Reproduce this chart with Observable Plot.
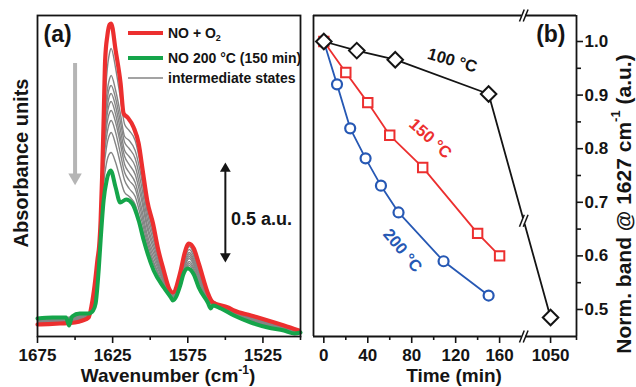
<!DOCTYPE html>
<html><head><meta charset="utf-8">
<script src="https://cdn.jsdelivr.net/npm/d3@7"></script>
<script src="https://cdn.jsdelivr.net/npm/@observablehq/plot@0.6"></script>
<style>
body{margin:0;background:#fff;}
#wrap{position:relative;width:636px;height:387px;overflow:hidden;background:#fff;}
#wrap svg{position:absolute;top:0;}
</style></head><body><div id="wrap"></div>
<script>
// ---------- Panel (a): spectra ----------
const redWn  = [1675,1668,1660,1650,1645,1641,1639,1637,1635,1634,1633,1632,1631,1630,1628.5,1627,1626,1623,1619.7,1617.7,1615,1611,1607.7,1605,1602,1598,1595,1591,1587.7,1585,1579.7,1577,1574.3,1571,1567.7,1561,1558.3,1548.3,1544.3,1533,1521.7,1511,1501];
const redAbs = [0.060,0.062,0.065,0.070,0.080,0.095,0.155,0.255,0.39,0.45,0.58,0.80,1.08,1.38,1.505,1.56,1.565,1.43,1.265,1.115,1.095,1.045,0.965,0.83,0.68,0.56,0.445,0.33,0.245,0.22,0.33,0.42,0.465,0.44,0.365,0.205,0.17,0.145,0.13,0.105,0.08,0.055,0.03];

const greenWn  = [1675,1665,1656,1654,1652,1647,1641,1638,1636.3,1634.3,1633,1631,1629,1626.3,1623,1620,1616,1612,1607.7,1604.3,1597.7,1591,1586.3,1585,1580,1578,1575,1571,1567.7,1561.7,1559.7,1558.3,1553,1544.3,1533,1521.7,1511,1504,1500];
const greenAbs = [0.09,0.095,0.095,0.055,0.10,0.115,0.115,0.13,0.165,0.33,0.48,0.68,0.78,0.83,0.745,0.67,0.685,0.665,0.58,0.48,0.33,0.245,0.195,0.18,0.255,0.31,0.34,0.31,0.245,0.17,0.14,0.155,0.14,0.105,0.07,0.045,0.03,0.015,0.02];

const grayWn = [1675,1660,1645,1640,1637,1635,1633,1631,1629,1627,1626,1623,1620,1617,1614,1610,1606,1602,1597,1591,1585,1580,1574,1568,1561,1550,1535,1520,1500];
const grayAbs = [
  [0.065,0.068,0.085,0.12,0.24,0.38,0.60,1.00,1.30,1.42,1.44,1.34,1.20,1.06,1.03,0.98,0.84,0.65,0.50,0.32,0.215,0.32,0.45,0.35,0.20,0.145,0.10,0.07,0.028],
  [0.068,0.07,0.09,0.12,0.23,0.37,0.59,0.97,1.20,1.29,1.305,1.23,1.12,1.00,0.98,0.93,0.80,0.62,0.48,0.31,0.21,0.31,0.435,0.34,0.195,0.14,0.10,0.068,0.027],
  [0.07,0.072,0.095,0.12,0.22,0.36,0.58,0.95,1.16,1.245,1.255,1.19,1.08,0.97,0.94,0.89,0.76,0.59,0.46,0.30,0.205,0.305,0.42,0.33,0.19,0.14,0.095,0.065,0.026],
  [0.072,0.075,0.10,0.12,0.21,0.35,0.57,0.93,1.12,1.205,1.215,1.15,1.04,0.93,0.90,0.85,0.72,0.56,0.44,0.29,0.20,0.30,0.41,0.32,0.19,0.14,0.095,0.062,0.025],
  [0.075,0.078,0.10,0.12,0.20,0.34,0.56,0.91,1.09,1.165,1.175,1.11,1.00,0.90,0.86,0.81,0.69,0.54,0.42,0.28,0.20,0.29,0.40,0.31,0.185,0.135,0.09,0.06,0.024],
  [0.078,0.08,0.105,0.12,0.19,0.32,0.54,0.89,1.05,1.12,1.13,1.07,0.97,0.86,0.82,0.77,0.65,0.51,0.40,0.275,0.195,0.285,0.39,0.30,0.18,0.135,0.09,0.058,0.023],
  [0.08,0.083,0.108,0.12,0.18,0.31,0.53,0.86,1.00,1.07,1.08,1.02,0.92,0.82,0.78,0.74,0.62,0.49,0.38,0.27,0.19,0.28,0.375,0.29,0.18,0.135,0.085,0.055,0.022],
  [0.083,0.086,0.11,0.12,0.17,0.30,0.51,0.82,0.95,1.01,1.02,0.96,0.87,0.78,0.74,0.70,0.59,0.47,0.36,0.26,0.19,0.27,0.365,0.28,0.175,0.13,0.085,0.052,0.021],
  [0.086,0.09,0.112,0.12,0.16,0.29,0.50,0.76,0.87,0.915,0.92,0.87,0.79,0.72,0.70,0.66,0.56,0.45,0.35,0.255,0.185,0.265,0.355,0.265,0.175,0.13,0.08,0.05,0.02]
];
const ticksA = [1675,1625,1575,1525];
const minorA = [1650,1600,1550,1500];

// ---------- Panel (b): normalized band vs time ----------
const t100 = [0,30,65,150,1050];
const v100 = [1.0,0.983,0.966,0.902,0.485];
const t150 = [0,20,40,60,90,140,160];
const v150 = [1.0,0.942,0.886,0.825,0.765,0.642,0.60];
const t200 = [0,12,24,38,52,68,109,150];
const v200 = [1.0,0.92,0.838,0.782,0.731,0.681,0.59,0.526];
const ticksB = [0,40,80,120,160,1050];
const minorB = [20,60,100,140];
const ticksBy = [0.5,0.6,0.7,0.8,0.9,1.0];
const minorBy = [0.55,0.65,0.75,0.85,0.95];

const FONT = "'Liberation Sans', Arial, Helvetica, sans-serif";
const RED = "#ec2f2f", GREEN = "#15a54a", BLUE = "#2658b4", INK = "#141414";

// broken time axis: times up to 180 min are linear, the 1050 min point sits after the break
const BREAK = 182;
const axisPos = t => t <= 180 ? t : 206.4 + (t - 1050) * 0.5;

const wrap = document.getElementById("wrap");
const baseStyle = `font-family:${FONT};font-size:17px;font-weight:bold;background:transparent;overflow:visible;color:${INK};`;

// ---- Plot A
const redRows = redWn.map((w,i)=>({wn:w,a:redAbs[i]}));
const greenRows = greenWn.map((w,i)=>({wn:w,a:greenAbs[i]}));
const grayRows = grayAbs.flatMap((arr,k)=>arr.map((a,i)=>({wn:grayWn[i],a,k})));

const plotA = Plot.plot({
  width: 305, height: 387,
  marginLeft: 37, marginRight: 5, marginTop: 15, marginBottom: 51,
  style: baseStyle,
  x: {domain: [1675, 1500]},
  y: {domain: [0, 1.605], axis: null},
  marks: [
    Plot.line(grayRows, {x:"wn", y:"a", z:"k", stroke:"#858585", strokeWidth:1.4, curve:"monotone-x"}),
    Plot.line(redRows, {x:"wn", y:"a", stroke:RED, strokeWidth:4.2, curve:"monotone-x"}),
    Plot.line(greenRows, {x:"wn", y:"a", stroke:GREEN, strokeWidth:4, curve:"monotone-x"}),
    Plot.frame({stroke:INK, strokeWidth:1.8}),
    Plot.axisX({ticks: ticksA, tickSize:7, tickPadding:5, tickFormat: d=>String(d), label:null, fontSize:17, fontWeight:"bold", strokeWidth:1.6}),
    Plot.axisX({ticks: minorA, tickSize:4, tickFormat: ()=>"", label:null, strokeWidth:1.6}),
    // grey "decrease" arrow
    Plot.ruleX([{x:1650, y1:1.365, y2:0.80}], {x:"x", y1:"y1", y2:"y2", stroke:"#b5b5b5", strokeWidth:4}),
    Plot.dot([{x:1650, y:0.795}], {x:"x", y:"y", symbol:"triangle", r:5, fill:"#b5b5b5", stroke:"none", rotate:180}),
    // 0.5 a.u. scale bar
    Plot.ruleX([{x:1550, y1:0.40, y2:0.84}], {x:"x", y1:"y1", y2:"y2", stroke:INK, strokeWidth:2}),
    Plot.dot([{x:1550, y:0.839}], {x:"x", y:"y", symbol:"triangle", r:4, fill:INK, stroke:"none"}),
    Plot.dot([{x:1550, y:0.401}], {x:"x", y:"y", symbol:"triangle", r:4, fill:INK, stroke:"none", rotate:180}),
    Plot.text([{x:1546.3, y:0.585, s:"0.5 a.u."}], {x:"x", y:"y", text:"s", textAnchor:"start", fontSize:18, fontWeight:"bold", fill:INK}),
    Plot.text(["(a)"], {text:d=>d, frameAnchor:"top-left", dx:6, dy:10, textAnchor:"start", lineAnchor:"top", fontSize:23, fontWeight:"bold", fill:INK})
  ]
});
plotA.style.left = "0px";
wrap.appendChild(plotA);

// ---- Plot B
const xDomB = [-9.4, 230];
const yDomB = [0.4496, 1.0485];
const kx = (xDomB[1]-xDomB[0]) / 263;   // data units per pixel
const ky = (yDomB[1]-yDomB[0]) / 321;
const rows100 = t100.map((t,i)=>({u:axisPos(t), v:v100[i]}));
const rows150 = t150.map((t,i)=>({u:axisPos(t), v:v150[i]}));
const rows200 = t200.map((t,i)=>({u:axisPos(t), v:v200[i]}));
// where the 100 °C line crosses the axis break
const pA = rows100[3], pB = rows100[4];
const vBreak = pA.v + (BREAK - pA.u) / (pB.u - pA.u) * (pB.v - pA.v);
const slashes = (cx, cy) => [-1.9, 1.9].map(o => ({x1: cx + (o-2.4)*kx, y1: cy - 6*ky, x2: cx + (o+2.4)*kx, y2: cy + 6*ky}));
const frameSegs = [
  {y: yDomB[1], x1: xDomB[0], x2: BREAK-1.7*kx}, {y: yDomB[1], x1: BREAK+1.7*kx, x2: xDomB[1]},
  {y: yDomB[0], x1: xDomB[0], x2: BREAK-1.7*kx}, {y: yDomB[0], x1: BREAK+1.7*kx, x2: xDomB[1]}
];

const plotB = Plot.plot({
  width: 336, height: 387,
  marginLeft: 13, marginRight: 60, marginTop: 15, marginBottom: 51,
  style: baseStyle,
  x: {domain: xDomB},
  y: {domain: yDomB},
  marks: [
    Plot.ruleY(frameSegs, {y:"y", x1:"x1", x2:"x2", stroke:INK, strokeWidth:1.8}),
    Plot.ruleX([xDomB[0], xDomB[1]], {y1:yDomB[0], y2:yDomB[1], stroke:INK, strokeWidth:1.8}),
    Plot.link([...slashes(BREAK, yDomB[1]), ...slashes(BREAK, yDomB[0])], {x1:"x1", y1:"y1", x2:"x2", y2:"y2", stroke:INK, strokeWidth:1.5}),
    Plot.axisY({anchor:"right", ticks: ticksBy, tickSize:6, tickPadding:2, tickFormat: d3.format(".1f"), label:null, fontSize:17, fontWeight:"bold", strokeWidth:1.6}),
    Plot.axisY({anchor:"right", ticks: minorBy, tickSize:4, tickFormat: ()=>"", label:null, strokeWidth:1.6}),
    Plot.axisX({ticks: ticksB.map(axisPos), tickSize:7, tickPadding:5, tickFormat: d => String(ticksB[ticksB.map(axisPos).indexOf(d)]), label:null, fontSize:17, fontWeight:"bold", strokeWidth:1.6}),
    Plot.axisX({ticks: [...minorB, xDomB[1]], tickSize:4, tickFormat: ()=>"", label:null, strokeWidth:1.6}),
    // 200 °C
    Plot.line(rows200, {x:"u", y:"v", stroke:BLUE, strokeWidth:1.8}),
    Plot.dot(rows200, {x:"u", y:"v", symbol:"circle", r:5, stroke:BLUE, strokeWidth:2.2, fill:"white"}),
    // 150 °C
    Plot.line(rows150, {x:"u", y:"v", stroke:RED, strokeWidth:1.8}),
    Plot.dot(rows150, {x:"u", y:"v", symbol:"square2", r:6, stroke:RED, strokeWidth:2, fill:"white"}),
    // 100 °C
    Plot.line(rows100, {x:"u", y:"v", stroke:INK, strokeWidth:1.8}),
    Plot.dot([{u:BREAK, v:vBreak}], {x:"u", y:"v", symbol:"square", r:3.2, fill:"white", stroke:"none"}),
    Plot.link(slashes(BREAK, vBreak), {x1:"x1", y1:"y1", x2:"x2", y2:"y2", stroke:INK, strokeWidth:1.5}),
    Plot.dot(rows100, {x:"u", y:"v", symbol:"diamond2", r:7, stroke:INK, strokeWidth:2, fill:"white"}),
    // series labels
    Plot.text([{u:117, v:0.9645, s:"100 °C"}], {x:"u", y:"v", text:"s", rotate:16, fontSize:16.5, fontWeight:"bold", fill:INK}),
    Plot.text([{u:97, v:0.819, s:"150 °C"}], {x:"u", y:"v", text:"s", rotate:42, fontSize:16.5, fontWeight:"bold", fill:RED}),
    Plot.text([{u:71.6, v:0.610, s:"200 °C"}], {x:"u", y:"v", text:"s", rotate:50, fontSize:16.5, fontWeight:"bold", fill:BLUE}),
    Plot.text(["(b)"], {text:d=>d, frameAnchor:"top-right", dx:-11, dy:10, textAnchor:"end", lineAnchor:"top", fontSize:23, fontWeight:"bold", fill:INK})
  ]
});
plotB.style.left = "300px";
wrap.appendChild(plotB);

// ---- titles and legend (text overlay)
const NS = "http://www.w3.org/2000/svg";
const ov = document.createElementNS(NS, "svg");
ov.setAttribute("width", 636); ov.setAttribute("height", 387);
ov.style.left = "0px"; ov.style.pointerEvents = "none";
ov.setAttribute("font-family", FONT); ov.setAttribute("font-weight", "bold"); ov.setAttribute("fill", INK);
ov.innerHTML = `
  <text x="21" y="163" font-size="20" text-anchor="middle" dominant-baseline="central" transform="rotate(-90 21 163)">Absorbance units</text>
  <text x="168" y="382" font-size="19" text-anchor="middle">Wavenumber (cm<tspan dy="-8" font-size="12">-1</tspan><tspan dy="8">)</tspan></text>
  <text x="454" y="382" font-size="19" text-anchor="middle">Time (min)</text>
  <text x="623" y="204" font-size="21" text-anchor="middle" dominant-baseline="central" transform="rotate(-90 623 204)">Norm. band @ 1627 cm<tspan dy="-8" font-size="13">-1</tspan><tspan dy="8"> (a.u.)</tspan></text>
  <line x1="128" x2="163" y1="33" y2="33" stroke="${RED}" stroke-width="4"/>
  <line x1="128" x2="163" y1="58" y2="58" stroke="${GREEN}" stroke-width="4"/>
  <line x1="128" x2="163" y1="78" y2="78" stroke="#858585" stroke-width="1.5"/>
  <text x="168" y="38" font-size="14">NO + O<tspan dy="3" font-size="9">2</tspan></text>
  <text x="168" y="63" font-size="14">NO 200 °C (150 min)</text>
  <text x="168" y="83" font-size="14">intermediate states</text>
`;
wrap.appendChild(ov);
</script></body></html>
